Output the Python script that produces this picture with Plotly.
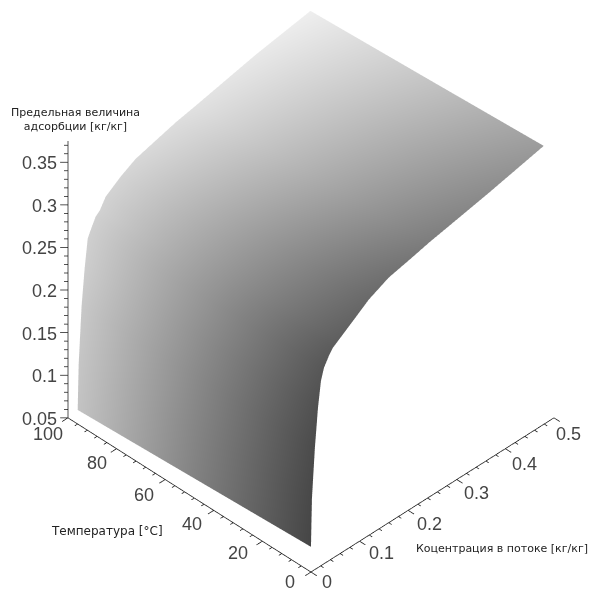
import plotly.graph_objects as go

concentration = [0, .002, .008, .0144, .0206, .0267, .037, .0453, .0576, .0885, .119, .16, .2016, .243, .366, .479]
temperature = [0, 48, 96]
adsorption_t0 = [.0796, .1356, .1924, .2374, .267, .280, .2905, .297, .3019, .3143, .3267, .3377, .343, .3487, .3626, .3768]
adsorption_t48 = [.073, .127, .189, .233, .263, .274, .285, .2905, .299, .311, .322, .331, .337, .342, .357, .369]
adsorption_t96 = [.0665, .119, .185, .228, .26, .268, .28, .284, .296, .3084, .318, .3245, .331, .3357, .3508, .3615]
gray_t0 = [70, 72, 75, 80, 85, 87, 90, 92, 95, 100, 105, 112, 118, 125, 140, 155]
gray_t48 = [130, 133, 137, 142, 147, 148, 150, 151, 153, 156, 160, 165, 170, 175, 186, 197]
gray_t96 = [195, 197, 200, 205, 207, 207, 208, 209, 210, 212, 215, 218, 221, 225, 232, 238]

t_major = [0, 20, 40, 60, 80, 100]
c_major = [0, 0.1, 0.2, 0.3, 0.4, 0.5]
z_major = [0.05, 0.1, 0.15, 0.2, 0.25, 0.3, 0.35]
t_labels = ["0", "20", "40", "60", "80", "100"]
c_labels = ["0", "0.1", "0.2", "0.3", "0.4", "0.5"]
z_labels = ["0.05", "0.1", "0.15", "0.2", "0.25", "0.3", "0.35"]
z_low, z_top = 0.05, 0.375

t_label_dx = [-21, -24, -22, -21, -20, -20]
t_label_dy = [-10, -12, -14, -15, -14, -16]
c_label_dx = [16, 22, 21, 20, 19, 15]
c_label_dy = [-10, -12, -14, -13, -15, -16]

fig = go.Figure()
fig.add_trace(go.Surface(
    x=concentration, y=temperature,
    z=[adsorption_t0, adsorption_t48, adsorption_t96],
    surfacecolor=[gray_t0, gray_t48, gray_t96],
    cmin=0, cmax=255, showscale=False,
    colorscale=[[0, "rgb(0,0,0)"], [1, "rgb(255,255,255)"]],
    lighting=dict(ambient=1, diffuse=0, specular=0, fresnel=0, roughness=1),
    hoverinfo="skip",
))

xs, ys, zs = [], [], []
def seg(a, b):
    xs.extend([a[0], b[0], None]); ys.extend([a[1], b[1], None]); zs.extend([a[2], b[2], None])

seg((0, 100, z_low), (0, 0, z_low))
seg((0, 0, z_low), (0.5, 0, z_low))
seg((0, 100, z_low), (0, 100, z_top))
for i in range(0, 26):
    t = i * 4
    L = 0.012 if i % 5 == 0 else 0.006
    seg((0, t, z_low), (-L, t, z_low))
    c = i * 0.02
    L = 2.4 if i % 5 == 0 else 1.2
    seg((c, 0, z_low), (c, -L, z_low))
for i in range(0, 33):
    z = z_low + i * 0.01
    f = 1.0 if i % 5 == 0 else 0.5
    seg((0, 100, z), (-0.008 * f, 100 + 1.6 * f, z))

fig.add_trace(go.Scatter3d(x=xs, y=ys, z=zs, mode="lines",
                           line=dict(color="#1a1a1a", width=1.5), hoverinfo="skip"))

tick_font = dict(family="Liberation Sans", size=18, color="#444444")
label_font = dict(family="DejaVu Sans", size=11, color="#222222")
temp_font = dict(family="DejaVu Sans", size=12, color="#222222")
ann = []
for v, s in zip(z_major, z_labels):
    ann.append(dict(x=0, y=100, z=v, text=s, showarrow=False, xanchor="right", yanchor="middle",
                    xshift=-9, yshift=-1, font=tick_font))
for v, s, dx, dy in zip(t_major, t_labels, t_label_dx, t_label_dy):
    ann.append(dict(x=0, y=v, z=z_low, text=s, showarrow=False, xanchor="center", yanchor="middle",
                    xshift=dx, yshift=dy, font=tick_font))
for v, s, dx, dy in zip(c_major, c_labels, c_label_dx, c_label_dy):
    ann.append(dict(x=v, y=0, z=z_low, text=s, showarrow=False, xanchor="center", yanchor="middle",
                    xshift=dx, yshift=dy, font=tick_font))
ann.append(dict(x=0, y=100, z=z_top, text="Предельная величина<br>адсорбции [кг/кг]", showarrow=False,
                xanchor="center", yanchor="middle", xshift=8, yshift=21, font=label_font))
ann.append(dict(x=0, y=40, z=z_low, text="Температура [°С]", showarrow=False,
                xanchor="center", yanchor="middle", xshift=-107, yshift=-21, font=temp_font))
ann.append(dict(x=0.2, y=0, z=z_low, text="Коцентрация в потоке [кг/кг]", showarrow=False,
                xanchor="center", yanchor="middle", xshift=94, yshift=-38, font=label_font))

hidden = dict(visible=False, showspikes=False)
fig.update_layout(
    width=592, height=591, margin=dict(l=0, r=0, t=0, b=0),
    paper_bgcolor="white", showlegend=False,
    scene=dict(
        domain=dict(x=[0, 1], y=[0, 1]),
        xaxis=dict(range=[-0.02, 0.52], **hidden),
        yaxis=dict(range=[-4, 104], **hidden),
        zaxis=dict(range=[0.03, 0.39], **hidden),
        aspectmode="manual", aspectratio=dict(x=1.256, y=1.256, z=1.343),
        camera=dict(eye=dict(x=-2.787, y=-2.7154, z=3.1334),
                    center=dict(x=-0.0570, y=0.0146, z=-0.0366), up=dict(x=0, y=0, z=1),
                    projection=dict(type="orthographic")),
        bgcolor="white",
        annotations=ann,
    ),
)
fig.write_html("out.html", config=dict(displayModeBar=False),
               post_script="document.body.style.margin='0';document.body.style.overflow='hidden';")
